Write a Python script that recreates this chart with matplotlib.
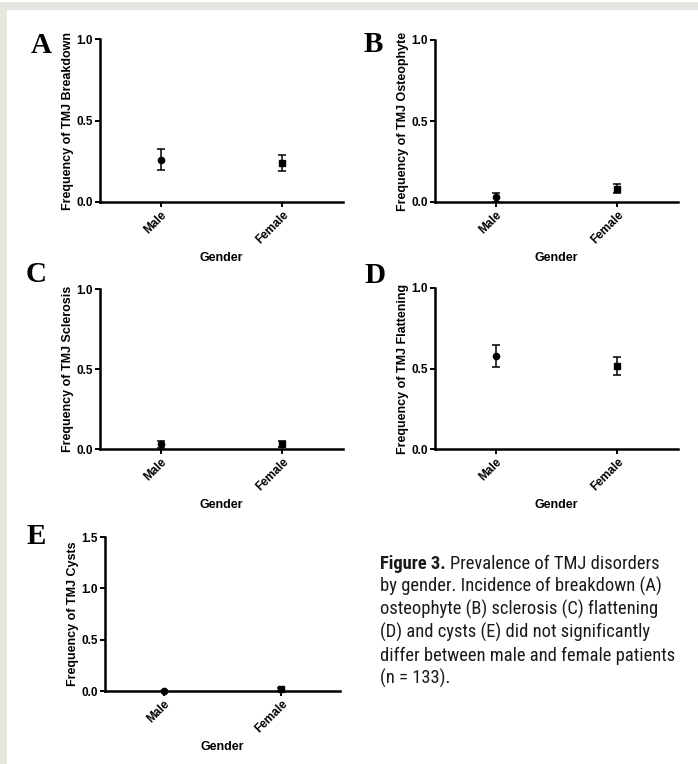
import matplotlib
matplotlib.use("Agg")
import matplotlib.pyplot as plt
from matplotlib import font_manager
from matplotlib.patches import Rectangle

W, H = 698, 764
DPI = 100

# Data (mean, SEM)
genders = ["Male", "Female"]

breakdown_mean = [0.26, 0.24]
breakdown_sem = [0.063, 0.050]

osteophyte_mean = [0.03, 0.083]
osteophyte_sem = [0.027, 0.027]

sclerosis_mean = [0.03, 0.03]
sclerosis_sem = [0.022, 0.018]

flattening_mean = [0.58, 0.515]
flattening_sem = [0.068, 0.056]

cysts_mean = [0.0, 0.015]
cysts_sem = [0.0, 0.012]

panels = [
    # letter, mean, sem, ylabel, yticks, rect (px: left, top, right, bottom), letter pos (px)
    ("A", breakdown_mean, breakdown_sem, "Frequency of TMJ Breakdown",
     [0.0, 0.5, 1.0], (100, 39, 343, 202), (31, 53)),
    ("B", osteophyte_mean, osteophyte_sem, "Frequency of TMJ Osteophyte",
     [0.0, 0.5, 1.0], (435, 40, 678, 202), (364, 52)),
    ("C", sclerosis_mean, sclerosis_sem, "Frequency of TMJ Sclerosis",
     [0.0, 0.5, 1.0], (100, 289, 343, 449), (26, 282)),
    ("D", flattening_mean, flattening_sem, "Frequency of TMJ Flattening",
     [0.0, 0.5, 1.0], (435, 288, 678, 449), (364, 283)),
    ("E", cysts_mean, cysts_sem, "Frequency of TMJ Cysts",
     [0.0, 0.5, 1.0, 1.5], (105, 537, 340, 691), (27, 544)),
]

caption_lines = [
    "Prevalence of TMJ disorders",
    "by gender. Incidence of breakdown (A)",
    "osteophyte (B) sclerosis (C) flattening",
    "(D) and cysts (E) did not significantly",
    "differ between male and female patients",
    "(n = 133).",
]


def pick_caption_font():
    """Find a condensed/narrow face if one is installed, else a plain sans."""
    names = {f.name for f in font_manager.fontManager.ttflist}
    for cand in ["Liberation Sans Narrow", "Roboto Condensed", "Open Sans Condensed",
                 "DejaVu Sans Condensed", "Noto Sans Condensed", "Arial Narrow"]:
        if cand in names:
            return cand, None
    for f in font_manager.fontManager.ttflist:
        if "condensed" in str(f.stretch) and f.style == "normal":
            return f.name, f.stretch
    return "Liberation Sans", None


plt.rcParams["font.family"] = ["Liberation Sans", "DejaVu Sans"]

fig = plt.figure(figsize=(W / DPI, H / DPI), dpi=DPI)
fig.patch.set_facecolor("white")

strip = "#e4e7de"
fig.patches.append(Rectangle((0, 1 - 10 / H), 1, 8 / H, transform=fig.transFigure,
                             facecolor=strip, edgecolor="none", zorder=-4))
fig.patches.append(Rectangle((0, 0), 7 / W, 1 - 2 / H, transform=fig.transFigure,
                             facecolor=strip, edgecolor="none", zorder=-4))


def px_rect(l, t, r, b):
    return [l / W, 1 - b / H, (r - l) / W, (b - t) / H]


x = list(range(len(genders)))
markers = ["o", "s"]

for letter, mean, sem, ylabel, yticks, rect, lpos in panels:
    ax = fig.add_axes(px_rect(*rect))
    for i in x:
        ax.errorbar(i, mean[i], yerr=sem[i], fmt=markers[i], color="black",
                    ms=4.5 if markers[i] == "o" else 4.8, elinewidth=1.1,
                    capsize=3, capthick=1.1, clip_on=False, zorder=5)
    ax.set_xlim(-0.5, 1.5)
    ax.set_ylim(0, yticks[-1])
    ax.set_yticks(yticks)
    ax.set_yticklabels([f"{v:.1f}" for v in yticks], fontsize=8.5, fontweight="bold")
    ax.set_xticks(x)
    ax.set_xticklabels(genders, rotation=45, ha="right", rotation_mode="anchor",
                       fontsize=8.5, fontweight="bold")
    ax.spines["top"].set_visible(False)
    ax.spines["right"].set_visible(False)
    for s in ("left", "bottom"):
        ax.spines[s].set_linewidth(1.8)
    ax.tick_params(axis="both", direction="out", length=3.5, width=1.4, pad=1.5,
                   color="black")
    ax.set_ylabel(ylabel, fontsize=9, fontweight="bold", labelpad=2)
    ax.set_xlabel("Gender", fontsize=9, fontweight="bold", labelpad=4)
    fig.text(lpos[0] / W, 1 - lpos[1] / H, letter, family="Liberation Serif",
             fontweight="bold", fontsize=21, ha="left", va="baseline")

# caption: size the text so the widest line spans the same width as the reference
cap_family, cap_stretch = pick_caption_font()
cap_kw = dict(family=[cap_family, "DejaVu Sans"], color="#1a1a1a", va="baseline")
if cap_stretch is not None:
    cap_kw["fontstretch"] = cap_stretch
cap_x = 380
target_w = 296
baselines = [569, 592, 615, 638, 661, 684]
renderer = fig.canvas.get_renderer()

probe = fig.text(0, 0, caption_lines[4], fontsize=14, **cap_kw)
pw = probe.get_window_extent(renderer=renderer).width
probe.remove()
cap_size = min(15.0, 14 * target_w / pw)

bold = fig.text(cap_x / W, 1 - baselines[0] / H, "Figure 3.", fontweight="bold",
                fontsize=cap_size, **cap_kw)
bw = bold.get_window_extent(renderer=renderer).width
fig.text((cap_x + bw + cap_size * 0.3) / W, 1 - baselines[0] / H, caption_lines[0],
         fontsize=cap_size, **cap_kw)
for line, yb in zip(caption_lines[1:], baselines[1:]):
    fig.text(cap_x / W, 1 - yb / H, line, fontsize=cap_size, **cap_kw)

fig.savefig("out.png", dpi=DPI)
